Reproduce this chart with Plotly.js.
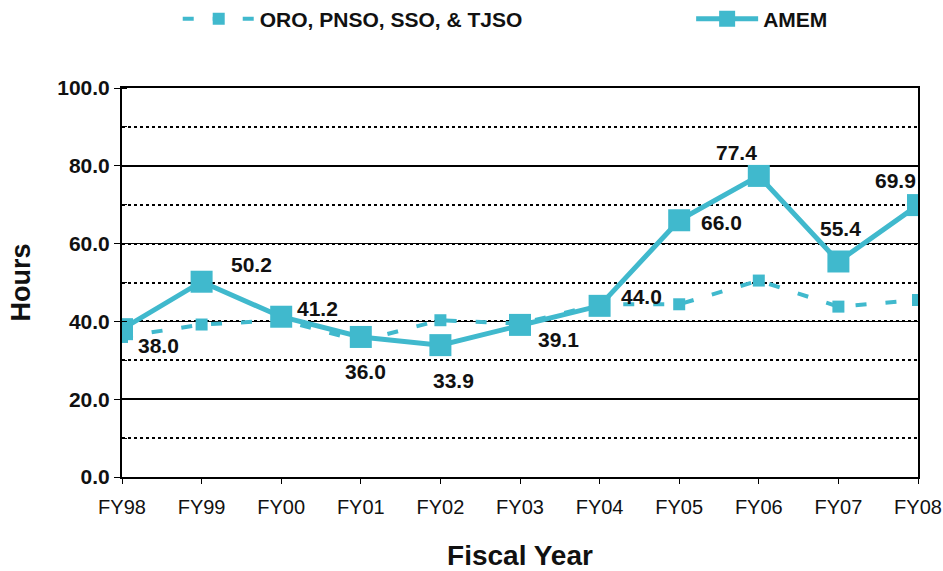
<!DOCTYPE html>
<html><head><meta charset="utf-8">
<script src="https://cdn.plot.ly/plotly-3.0.1.min.js"></script>
<style>html,body{margin:0;padding:0;background:#fff}#chart{width:943px;height:571px}</style>
</head><body><div id="chart"></div>
<script>
const categories = ["FY98","FY99","FY00","FY01","FY02","FY03","FY04","FY05","FY06","FY07","FY08"];
const otherOffices = [36.0, 39.2, 40.3, 35.0, 40.3, 39.4, 44.4, 44.4, 50.5, 43.8, 45.5];
const amem = [38.0, 50.2, 41.2, 36.0, 33.9, 39.1, 44.0, 66.0, 77.4, 55.4, 69.9];
const seriesNames = ["ORO, PNSO, SSO, & TJSO", "AMEM"];
const yTicks = [0, 20, 40, 60, 80, 100];

const labelShift = [[36,16],[50,-17],[36,-8],[5,35],[13,35],[38,15],[42,-9],[42,2],[-22,-23],[2,-33],[-23,-25]];
const color = '#40B9CD';
const font = 'Liberation Sans, Arial, sans-serif';
const legendFont = {family: font, size: 21, weight: 'bold', color: '#111'};

const traces = [
  {x: categories, y: otherOffices, name: seriesNames[0], type: 'scatter', mode: 'lines+markers', legend: 'legend',
   line: {color: color, width: 4, dash: '11px,19px'}, marker: {symbol: 'square', size: 12, color: color}},
  {x: categories, y: amem, name: seriesNames[1], type: 'scatter', mode: 'lines+markers', legend: 'legend2',
   line: {color: color, width: 5}, marker: {symbol: 'square', size: 22, color: color}}
];

const annotations = categories.map((c, i) => ({
  x: c, y: amem[i], text: amem[i].toFixed(1), showarrow: false,
  xshift: labelShift[i][0], yshift: -labelShift[i][1],
  font: {family: font, size: 21, color: '#111', weight: 'bold'}
}));

const layout = {
  width: 943, height: 571,
  margin: {l: 122, r: 25, t: 88, b: 94, autoexpand: false},
  paper_bgcolor: '#fff', plot_bgcolor: '#fff',
  font: {family: font, color: '#111'},
  showlegend: true,
  legend: {orientation: 'h', x: 0.07, xanchor: 'left', y: 1.23, yanchor: 'top',
    font: legendFont, itemwidth: 72, bgcolor: 'rgba(0,0,0,0)'},
  legend2: {orientation: 'h', x: 0.715, xanchor: 'left', y: 1.23, yanchor: 'top',
    font: legendFont, itemwidth: 62, bgcolor: 'rgba(0,0,0,0)'},
  xaxis: {type: 'category', range: [0, 10], showline: true, linecolor: '#000', linewidth: 2, mirror: true,
    ticks: 'outside', ticklen: 5, tickcolor: '#000', showgrid: false, zeroline: false,
    ticklabelstandoff: 6,
    tickfont: {family: font, size: 20, color: '#111'},
    title: {text: 'Fiscal Year', font: {family: font, size: 28, weight: 'bold', color: '#111'}, standoff: 30}},
  yaxis: {range: [0, 100], tickvals: yTicks, ticktext: yTicks.map(v => v.toFixed(1)),
    showline: true, linecolor: '#000', linewidth: 2, mirror: true,
    ticks: 'outside', ticklen: 6, tickcolor: '#000',
    showgrid: true, gridcolor: '#000', gridwidth: 1.5, zeroline: false,
    minor: {dtick: 10, tick0: 0, showgrid: true, gridcolor: '#000', gridwidth: 2, griddash: 'dot', ticks: 'inside', ticklen: 5, tickcolor: '#000'},
    tickfont: {family: font, size: 21, weight: 'bold', color: '#111'},
    title: {text: 'Hours', font: {family: font, size: 27, weight: 'bold', color: '#111'}, standoff: 19}},
  annotations: annotations
};

Plotly.newPlot('chart', traces, layout, {displayModeBar: false, staticPlot: true});
</script></body></html>
